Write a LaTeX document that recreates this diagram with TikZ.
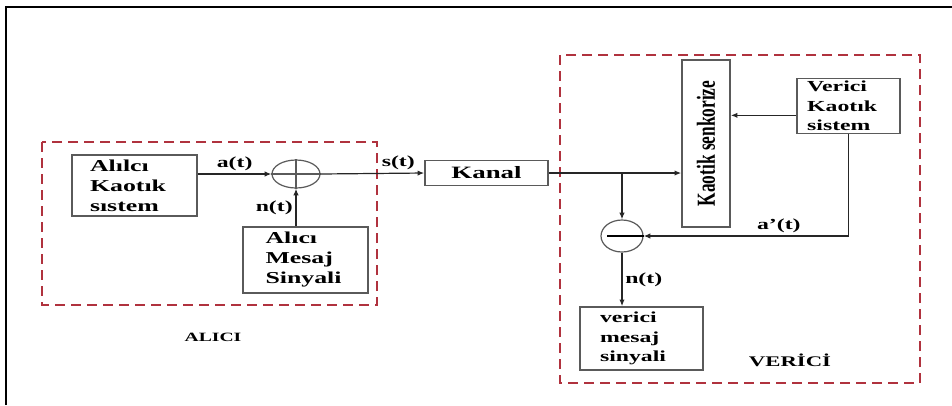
\documentclass[tikz,border=0pt]{standalone}
\usepackage{fontspec}
\usepackage{graphicx}
\setmainfont[FakeStretch=1.55]{Liberation Serif}
\newfontfamily\duzfont{Liberation Serif}
\usetikzlibrary{arrows.meta,shapes.geometric}
\definecolor{kesikkirmizi}{RGB}{176,50,62}
\definecolor{kutugri}{RGB}{90,90,90}

\begin{document}
\begin{tikzpicture}[
        x=0.75pt, y=-0.75pt,
        font=\bfseries\fontsize{11.5}{14.5}\selectfont,
        blok/.style={draw=kutugri, line width=1.2pt, align=center, inner sep=2pt},
        buyuk/.style={font=\bfseries\fontsize{12.5}{15}\selectfont},
        toplayici/.style={draw=kutugri, line width=0.9pt, ellipse, inner sep=0pt},
        bolge/.style={draw=kesikkirmizi, line width=2pt, dash pattern=on 7.5pt off 4.5pt},
        ok/.style={-{Latex[length=5pt,width=4pt]}, line width=0.9pt, draw=black!85},
        etiket/.style={inner sep=2pt}
    ]
        \useasboundingbox (0,0) rectangle (952,405);
        \draw[line width=1.5pt] (6,405) -- (6,7) -- (952,7);

        \draw[bolge] (42,142) rectangle (377,305);
        \draw[bolge] (560,55) rectangle (920,383);

        \node[blok, buyuk, align=left, text width=66.75pt, minimum width=93.75pt, minimum height=45.75pt] (kaynak) at (134.5,185.5) {Alılcı\\Kaotık\\sıstem};
        \node[toplayici, minimum width=36pt, minimum height=21pt] (topla) at (296,174) {};
        \node[blok, buyuk, align=left, text width=60pt, minimum width=93.75pt, minimum height=49.5pt] (mesaj) at (305.5,260) {Alıcı\\Mesaj\\Sinyali};
        \node[blok, minimum width=92.25pt, minimum height=18.75pt, font=\bfseries\fontsize{13}{14}\selectfont] (kanal) at (486.5,173) {Kanal};
        \node[blok, minimum width=36pt, minimum height=125.25pt] (senk) at (706,143.5) {};
        \node[rotate=90, font=\duzfont\bfseries\fontsize{13}{13}\selectfont] at (senk) {\scalebox{1}[1.5]{Kaotik senkorize}};
        \node[blok, align=left, text width=62pt, minimum width=77.25pt, minimum height=39pt] (vkaynak) at (848.5,106) {Verici\\Kaotık\\sistem};
        \node[toplayici, minimum width=31.5pt, minimum height=24pt] (cikar) at (622,236) {};
        \node[blok, align=left, text width=62.25pt, minimum width=92.25pt, minimum height=47.25pt] (vmesaj) at (641.5,338.5) {verici\\mesaj\\sinyali};

        \node[font=\bfseries\fontsize{9.5}{12}\selectfont] (alici) at (213,337) {ALICI};
        \node[font=\bfseries\fontsize{11}{12}\selectfont] (verici) at (790,360) {VERİCİ};

        \draw[line width=0.9pt, draw=kutugri] (topla.north) -- (topla.south) (topla.west) -- (topla.east);
        \draw[line width=1.5pt] ([xshift=-11pt]cikar.center) -- (cikar.east);

        \coordinate (ayrim) at (cikar.north |- kanal.east);
        \path ([yshift=-7pt]vkaynak.west) coordinate (vk);

        \draw[ok] (kaynak.east |- topla.west) -- node[etiket, above] {a(t)} (topla.west);
        \draw[ok] (topla.south |- mesaj.north) -- node[etiket, left] {n(t)} (topla.south);
        \draw[ok] (topla.east) -- node[etiket, above, pos=0.75] {s(t)} (kanal.west);
        \draw[ok] (kanal.east) -- (kanal.east -| senk.west);
        \draw[ok] (ayrim) -- (cikar.north);
        \draw[ok] (vk) -- (vk -| senk.east);
        \draw[ok] (vkaynak.south) |- node[etiket, above, pos=0.67] {a'(t)} (cikar.east);
        \draw[ok] (cikar.south) -- node[etiket, right] {n(t)} (cikar.south |- vmesaj.north);
    \end{tikzpicture}
\end{document}
